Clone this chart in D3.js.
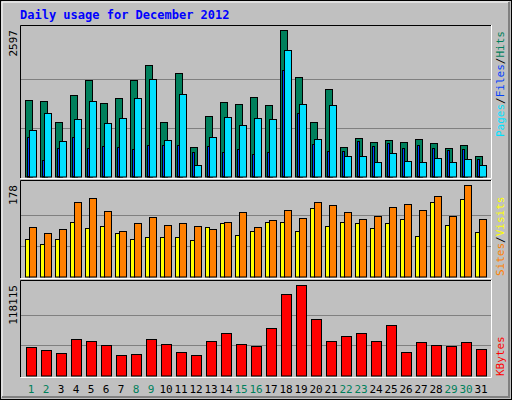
<!DOCTYPE html>
<html><head><meta charset="utf-8">
<script src="https://cdn.jsdelivr.net/npm/d3@7"></script>
<style>body{margin:0;background:#fff}text{font-family:"DejaVu Sans Mono",monospace}</style>
</head><body><svg width="512" height="400"></svg>
<script>
let days = d3.range(1, 32);
let weekends = [1, 2, 8, 9, 15, 16, 22, 23, 29, 30];
let hits = [1351,1328,958,1434,1698,1293,1381,1698,1963,958,1822,517,1064,1310,1275,1398,1257,2597,1751,958,1540,517,676,605,640,605,658,588,499,552,358];
let files = [817,1116,623,1011,1328,940,1028,1381,1716,640,1451,200,693,1046,905,1028,1011,2227,1275,658,1257,358,358,253,411,270,253,323,253,306,200];
let pages = [693,288,499,693,499,535,517,482,552,552,552,429,535,429,482,394,429,1874,1116,570,447,447,623,535,588,499,552,499,464,482,306];
let visits = [95,85,91,145,151,126,89,104,116,99,104,97,91,106,124,95,110,128,114,145,139,124,112,118,135,141,128,155,118,178,112];
let sites = [72,62,72,106,93,97,85,72,77,77,77,70,95,104,81,89,106,106,89,132,97,106,103,93,104,112,79,145,99,149,87];
let kbytes = [37640,33740,29850,48020,45420,40230,27250,28550,48020,41530,31150,27250,45420,55810,41530,38930,62300,106420,118115,73970,45420,51910,55810,45420,66190,31150,44130,40230,38930,44130,35040];

let svg = d3.select("svg");
svg.append("rect").attr("x", 0.5).attr("y", 0.5).attr("width", 511).attr("height", 399).attr("fill", "#c0c0c0").attr("stroke", "#000");
svg.append("path").attr("d", "M2,2H509V397H2Z").attr("fill", "none").attr("stroke", "#fff");
svg.append("path").attr("d", "M509,2V397H2").attr("fill", "none").attr("stroke", "#808080").attr("stroke-width", 2);

svg.append("text").attr("x", 20).attr("y", 19).attr("fill", "#0000ff").attr("font-weight", "bold").attr("font-size", 12).text("Daily usage for December 2012");

let x = d3.scaleBand().domain(days).range([25, 490]).padding(0);

function panel(top, bot, max) {
    svg.append("path").attr("d", `M20.5,${bot}V${top}.5H491`).attr("fill", "none").attr("stroke", "#000");
    svg.append("path").attr("d", `M20.5,${bot}.5H491.5V${top}`).attr("fill", "none").attr("stroke", "#fff");
    let y = d3.scaleLinear().domain([0, max]).range([bot - 1.5, top + 4.5]);
    [1, 2].forEach(k => {
        let gy = Math.round(y(max * k / 3)) + 0.5;
        svg.append("line").attr("x1", 21).attr("x2", 491).attr("y1", gy).attr("y2", gy).attr("stroke", "#808080");
    });
    svg.append("text").attr("transform", `translate(17,${top + 5}) rotate(-90)`).attr("text-anchor", "end")
        .attr("font-size", 11).attr("fill", "#000").text(max);
    return y;
}

function bars(y, data, dx, w, color) {
    svg.append("g").selectAll("rect").data(data).enter().append("rect")
        .attr("x", (d, i) => x(days[i]) + dx + 0.5)
        .attr("y", d => Math.round(y(d)) + 0.5)
        .attr("width", w)
        .attr("height", d => y(0) - Math.round(y(d)))
        .attr("fill", color).attr("stroke", "#000");
}

let y1 = panel(25, 178, 2597);
bars(y1, hits, 0, 7, "#00805c");
bars(y1, files, 4, 7, "#00e0ff");
bars(y1, pages, 2, 2, "#0040ff");

let y2 = panel(180, 278, 178);
bars(y2, sites, 0, 4, "#ffff00");
bars(y2, visits, 4, 7, "#ff8000");

let y3 = panel(280, 377, 118115);
bars(y3, kbytes, 1, 10, "#ff0000");

svg.append("g").selectAll("text").data(days).enter().append("text")
    .attr("x", d => x(d) + 6).attr("y", 393).attr("text-anchor", "middle").attr("font-size", 11)
    .attr("fill", d => weekends.includes(d) ? "#00805c" : "#000").text(d => d);

function sideLabel(yb, parts) {
    let t = svg.append("text").attr("transform", `translate(504,${yb}) rotate(-90)`).attr("font-size", 11);
    parts.forEach(p => t.append("tspan").attr("fill", p[1]).text(p[0]));
}
sideLabel(137, [["Pages", "#00e0ff"], ["/", "#000"], ["Files", "#0040ff"], ["/", "#000"], ["Hits", "#00805c"]]);
sideLabel(276, [["Sites", "#ff8000"], ["/", "#000"], ["Visits", "#ffff00"]]);
sideLabel(376, [["KBytes", "#ff0000"]]);
</script></body></html>
